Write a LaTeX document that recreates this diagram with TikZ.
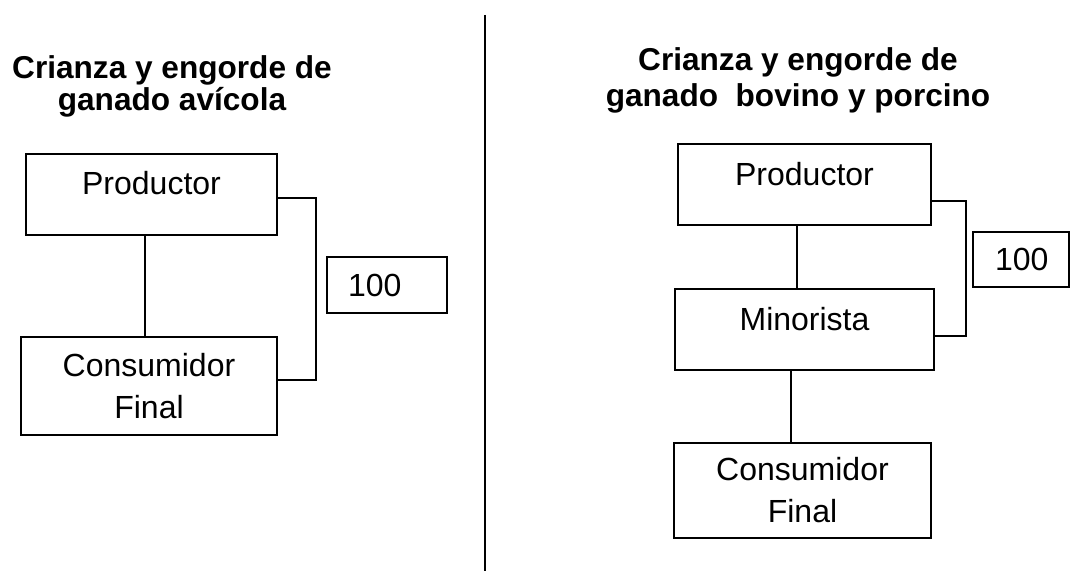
\documentclass[tikz,border=0pt]{standalone}
\usepackage{fontspec}
\setmainfont{Liberation Sans}
\usepackage{tikz}
\usetikzlibrary{calc,positioning}

\tikzset{
    titulo/.style={align=center, inner sep=0pt, font=\bfseries\fontsize{15.8}{16}\selectfont},
    etapa/.style={draw, line width=1pt, inner sep=0pt, align=center, font=\fontsize{16}{21}\selectfont},
    una/.style={text height=20.5pt, text depth=20pt},
    cifra/.style={draw, line width=1pt, inner ysep=0pt, align=left, font=\fontsize{16}{19}\selectfont},
    linea/.style={line width=1pt}
}

\begin{document}
\begin{tikzpicture}[x=0.5pt, y=-0.5pt]
            \useasboundingbox (0,0) rectangle (1072,571);

            \node[titulo] (tituloA) at (172,86) {Crianza y engorde de\\ganado avícola};
            \node[etapa,una,minimum width=125.5pt] (prodA) at (151.5,194.5) {Productor};
            \node[etapa,minimum width=128pt,minimum height=49pt] (consA) at (149,386) {Consumidor\\Final};
            \node[cifra,text width=39pt,inner xsep=10.5pt,minimum height=28pt] (cienA) at (387,285) {100};

            \draw[linea] ([xshift=-3.5pt]prodA.south) -- ([xshift=-3.5pt]prodA.south |- consA.north);
            \draw[linea] ([yshift=-1.75pt]prodA.east) -- ++(38,0) |- ([yshift=3pt]consA.east);

            \draw[linea] (485,15) -- (485,571);

            \node[titulo,font=\bfseries\fontsize{15.8}{18}\selectfont] (tituloB) at (798,80.5) {Crianza y engorde de\\ganado~ bovino y porcino};
            \node[etapa,una,minimum width=126.5pt] (prodB) at (804.5,185) {Productor};
            \node[etapa,una,minimum width=129.5pt] (minB) at (804.5,330) {Minorista};
            \node[etapa,minimum width=128.5pt,minimum height=47.5pt] (consB) at (802.5,490.5) {Consumidor\\Final};
            \node[cifra,text width=26pt,inner xsep=11pt,minimum height=27.5pt] (cienB) at (1021,259.5) {100};

            \draw[linea] ([xshift=-3.75pt]prodB.south) -- ([xshift=-3.75pt]prodB.south |- minB.north);
            \draw[linea] ([yshift=-8pt]prodB.east) -- ++(34,0) |- ([yshift=-3pt]minB.east);
            \draw[linea] ([xshift=-6.75pt]minB.south) -- ([xshift=-6.75pt]minB.south |- consB.north);
\end{tikzpicture}
\end{document}
